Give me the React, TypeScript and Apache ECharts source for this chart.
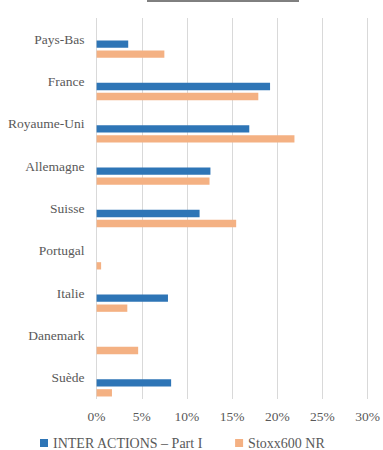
import React, { useEffect, useRef } from "react";
import * as echarts from "echarts";

const categories = ["Pays-Bas", "France", "Royaume-Uni", "Allemagne", "Suisse", "Portugal", "Italie", "Danemark", "Suède"];
const interActions = [3.5, 19.2, 16.9, 12.6, 11.4, 0, 7.9, 0, 8.25];
const stoxx600 = [7.5, 17.9, 21.9, 12.5, 15.45, 0.5, 3.4, 4.6, 1.7];
const xTicks = { min: 0, max: 30, interval: 5 };
const seriesNames = ["INTER ACTIONS – Part I", "Stoxx600 NR"];
const title = "Répartition par Pays";

const FONT = "Liberation Serif";
const GREY = "#595959";

export default function App() {
  const ref = useRef<HTMLDivElement>(null);
  useEffect(() => {
    if (!ref.current) return;
    const chart = echarts.init(ref.current, null, { renderer: "svg" });
    const barStyle = { barWidth: 7.3, barGap: "37%" };
    chart.setOption({
      animation: false,
      backgroundColor: "#ffffff",
      textStyle: { fontFamily: FONT, fontSize: 13.5, color: GREY },
      grid: { left: 96.6, right: 11.3, top: 18, bottom: 51, containLabel: false },
      graphic: [
        {
          type: "text",
          left: 148,
          top: -16,
          style: { text: title, fontFamily: FONT, fontWeight: "bold", fontSize: 15, fill: "#000" },
        },
        {
          type: "line",
          shape: { x1: 147, y1: 1, x2: 299, y2: 1 },
          style: { stroke: "#000", lineWidth: 1 },
        },
      ],
      legend: {
        data: seriesNames,
        left: 40,
        top: 436,
        padding: 0,
        icon: "rect",
        itemWidth: 8,
        itemHeight: 8,
        itemGap: 32,
        textStyle: { fontFamily: FONT, fontSize: 14, color: GREY },
      },
      xAxis: {
        type: "value",
        ...xTicks,
        axisLine: { show: false },
        axisTick: { show: false },
        axisLabel: { formatter: "{value}%", fontFamily: FONT, fontSize: 13.5, color: GREY, margin: 10 },
        splitLine: { show: true, lineStyle: { color: "#d9d9d9", width: 1 } },
      },
      yAxis: {
        type: "category",
        data: categories,
        inverse: true,
        axisLine: { show: false },
        axisTick: { show: false },
        axisLabel: { fontFamily: FONT, fontSize: 13.5, color: GREY, margin: 12 },
        splitLine: { show: false },
      },
      series: [
        { name: "_pad1", type: "bar", data: [], ...barStyle },
        { name: "_pad2", type: "bar", data: [], ...barStyle },
        { name: seriesNames[0], type: "bar", data: interActions, itemStyle: { color: "#2E75B6" }, ...barStyle },
        { name: seriesNames[1], type: "bar", data: stoxx600, itemStyle: { color: "#F4B183" }, ...barStyle },
      ],
    });
    return () => chart.dispose();
  }, []);
  return (
    <div
      ref={ref}
      style={{ position: "fixed", left: 0, top: 0, width: 383, height: 450, background: "#fff" }}
    />
  );
}
